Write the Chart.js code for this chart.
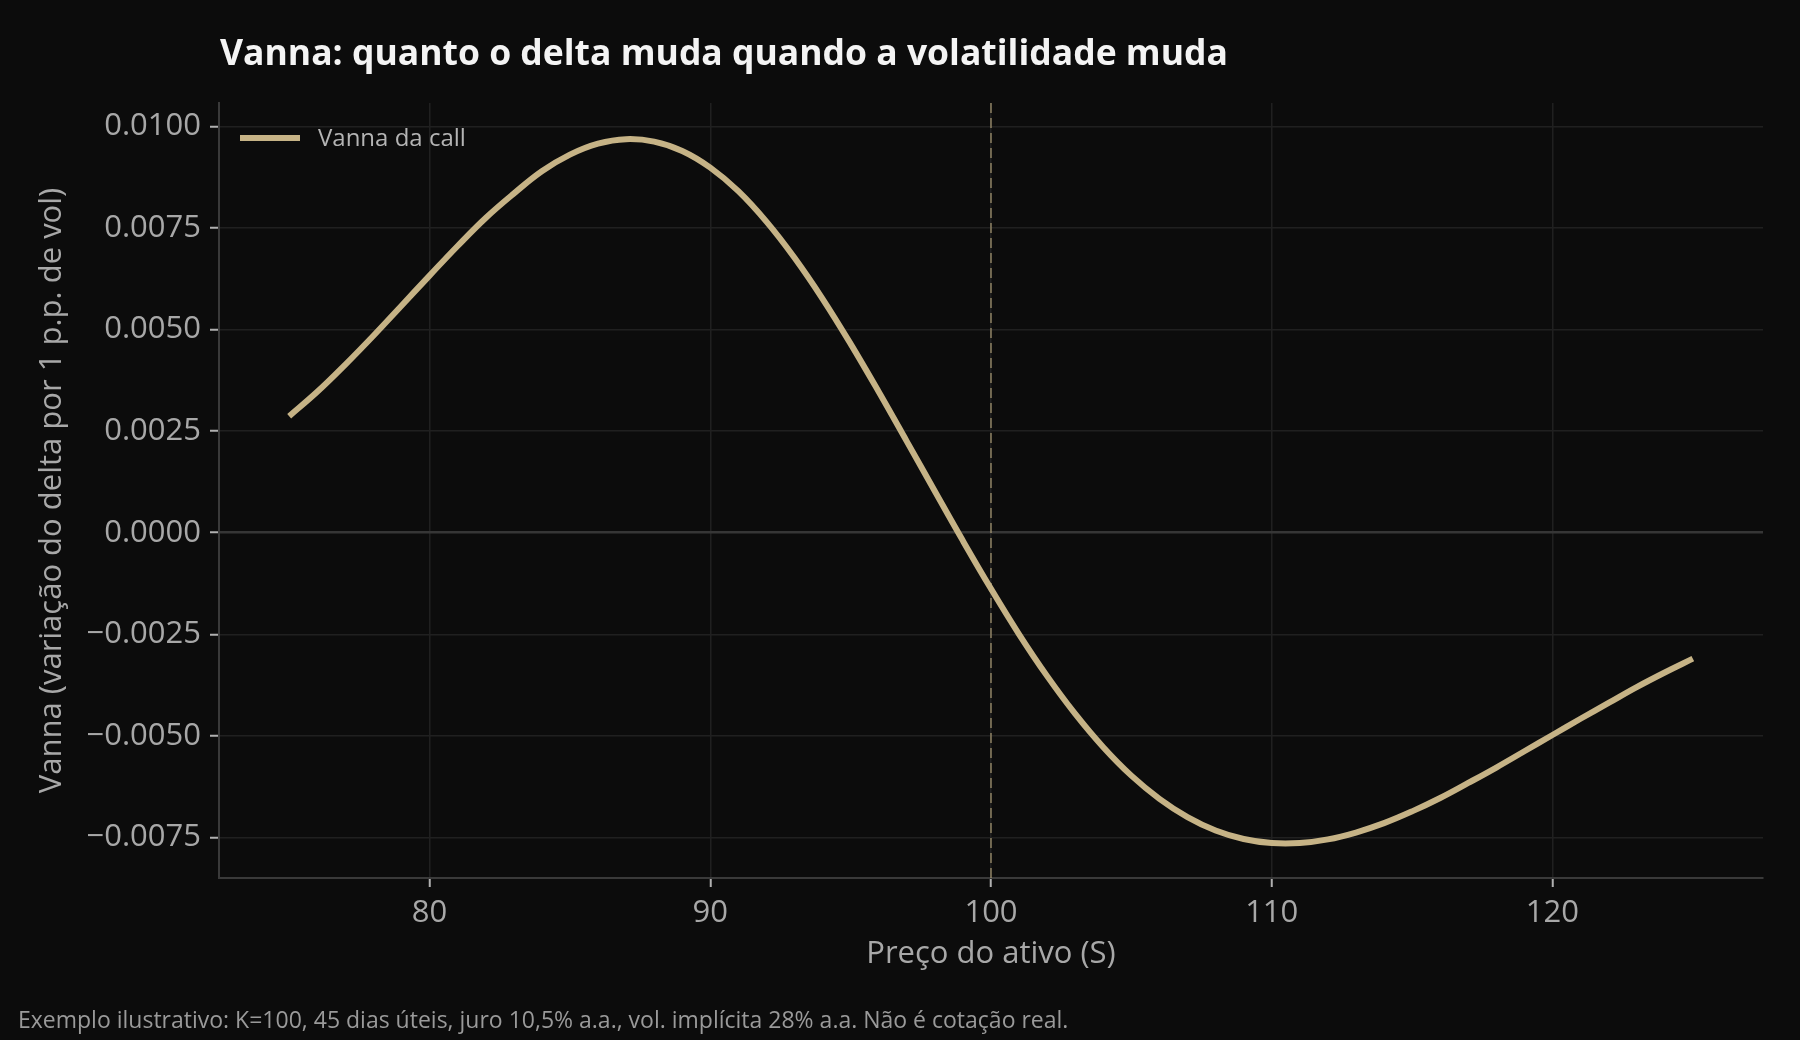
<!DOCTYPE html>
<html>
<head>
<meta charset="utf-8">
<script src="https://cdn.jsdelivr.net/npm/chart.js@4.4.1/dist/chart.umd.min.js"></script>
<style>
  html, body { margin: 0; padding: 0; background: #0c0c0c; }
  #wrap { position: relative; width: 1800px; height: 1040px; overflow: hidden; }
  #chart { position: absolute; left: 0; top: 0; }
  .txt { position: absolute; font-family: "Open Sans", sans-serif; line-height: 1; white-space: nowrap; }
  #title { left: 220px; top: 34px; font-size: 35.5px; font-weight: 700; color: #f4f4f4; }
  #note { left: 18px; top: 1008px; font-size: 23px; color: #9a9a9a; }
  #legend { left: 240px; top: 125px; font-size: 24px; color: #b4b4b4; }
  #legend .swatch { position: absolute; left: 0; top: 10px; width: 60px; height: 6px; background: #c6b386; }
  #legend .lbl { position: absolute; left: 78px; top: 0; }
</style>
</head>
<body>
<div id="wrap">
  <canvas id="chart" width="1800" height="1040"></canvas>
  <div id="title" class="txt">Vanna: quanto o delta muda quando a volatilidade muda</div>
  <div id="legend" class="txt"><span class="swatch"></span><span class="lbl">Vanna da call</span></div>
  <div id="note" class="txt">Exemplo ilustrativo: K=100, 45 dias úteis, juro 10,5% a.a., vol. implícita 28% a.a. Não é cotação real.</div>
</div>
<script>
// preço do ativo (S) e vanna
const prices = [75, 76, 77, 78, 79, 80, 81, 82, 83, 84, 85, 86, 87, 88, 89, 90, 91, 92, 93, 94, 95, 96, 97, 98, 99,
                100, 101, 102, 103, 104, 105, 106, 107, 108, 109, 110, 111, 112, 113, 114, 115, 116, 117, 118, 119, 120,
                121, 122, 123, 124, 125];
const vanna = [0.00287, 0.00347, 0.00414, 0.00485, 0.00559, 0.00633, 0.00706, 0.00775, 0.00835, 0.00890,
               0.00931, 0.00958, 0.00969, 0.00963, 0.00940, 0.00899, 0.00841, 0.00766, 0.00677, 0.00576,
               0.00465, 0.00347, 0.00225, 0.00102, -0.00020, -0.00138, -0.00250, -0.00353, -0.00446, -0.00528,
               -0.00598, -0.00655, -0.00700, -0.00733, -0.00754, -0.00764, -0.00764, -0.00755, -0.00738, -0.00715,
               -0.00686, -0.00653, -0.00616, -0.00578, -0.00538, -0.00498, -0.00458, -0.00419, -0.00380, -0.00344,
               -0.00310];
const strike = 100;
const xTicks = [80, 90, 100, 110, 120];
const yTicks = [-0.0075, -0.005, -0.0025, 0, 0.0025, 0.005, 0.0075, 0.01];
const xRange = [72.5, 127.5];
const yRange = [-0.0085, 0.01058];

const fontFamily = '"Open Sans", sans-serif';
const gridColor = '#202020';
const axisColor = '#3a3a3a';

const ctx = document.getElementById('chart').getContext('2d');
new Chart(ctx, {
    type: 'line',
    data: {
        datasets: [{
            label: 'Vanna da call',
            data: prices.map((p, i) => ({ x: p, y: vanna[i] })),
            borderColor: '#c6b386',
            borderWidth: 6,
            pointRadius: 0,
            tension: 0.4,
            fill: false
        }, {
            label: 'strike',
            data: [{ x: strike, y: yRange[0] }, { x: strike, y: yRange[1] }],
            borderColor: 'rgba(198, 179, 134, 0.5)',
            borderWidth: 2,
            borderDash: [10, 5],
            pointRadius: 0,
            fill: false
        }]
    },
    options: {
        responsive: false,
        devicePixelRatio: 1,
        animation: false,
        layout: { padding: { top: 103, right: 37, left: 0, bottom: 0 } },
        plugins: {
            legend: { display: false },
            tooltip: { enabled: false }
        },
        scales: {
            x: {
                type: 'linear',
                min: xRange[0],
                max: xRange[1],
                afterBuildTicks: s => { s.ticks = xTicks.map(v => ({ value: v })); },
                afterFit: s => { s.height = 1040 - 878; },
                ticks: {
                    color: '#a8a8a8',
                    font: { family: fontFamily, size: 31 },
                    padding: 8,
                    maxRotation: 0
                },
                grid: { color: gridColor, lineWidth: 1.5, tickLength: 9, tickColor: '#b0b0b0', tickWidth: 2 },
                border: { color: axisColor, width: 2 },
                title: {
                    display: true,
                    text: 'Preço do ativo (S)',
                    color: '#a8a8a8',
                    font: { family: fontFamily, size: 31 },
                    padding: { top: 0, bottom: 67 }
                }
            },
            y: {
                min: yRange[0],
                max: yRange[1],
                afterBuildTicks: s => { s.ticks = yTicks.map(v => ({ value: v })); },
                afterFit: s => { s.width = 219; },
                ticks: {
                    color: '#a8a8a8',
                    font: { family: fontFamily, size: 31 },
                    padding: 9,
                    callback: v => (v < 0 ? '\u2212' : '') + Math.abs(v).toFixed(4)
                },
                grid: {
                    color: c => (c.tick && c.tick.value === 0) ? '#363636' : gridColor,
                    lineWidth: c => (c.tick && c.tick.value === 0) ? 2.5 : 1.5,
                    tickLength: 9,
                    tickColor: '#b0b0b0',
                    tickWidth: 2
                },
                border: { color: axisColor, width: 2 },
                title: {
                    display: true,
                    text: 'Vanna (variação do delta por 1 p.p. de vol)',
                    color: '#a8a8a8',
                    font: { family: fontFamily, size: 31 },
                    padding: { top: 34, bottom: 0 }
                }
            }
        }
    }
});
</script>
</body>
</html>
